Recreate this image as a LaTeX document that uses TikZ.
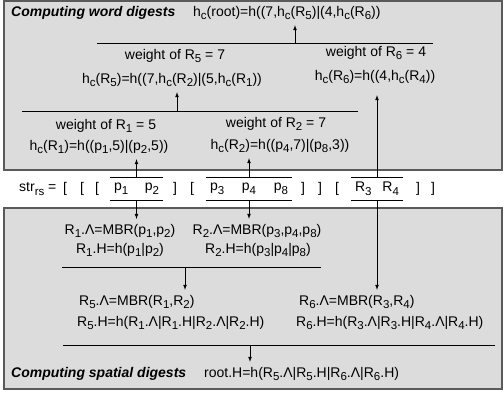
\documentclass[tikz,border=0pt]{standalone}
\usepackage{fontspec}
\setmainfont{Liberation Sans}
\newcommand\lo[1]{\raisebox{-0.5ex}{\fontsize{11.5}{11.5}\selectfont #1}}
\definecolor{panel}{HTML}{DCDCDC}
\definecolor{frame}{HTML}{5A5A5A}

\begin{document}
\begin{tikzpicture}[x=1pt, y=-1pt, >=latex,
  txt/.style={inner sep=1pt, font=\fontsize{14}{16}\selectfont},
  head/.style={inner sep=1pt, font=\fontsize{14}{16}\selectfont\bfseries\itshape},
  grp/.style={txt, minimum height=22pt, inner xsep=4pt},
  sep/.style={line width=0.8pt},
  arr/.style={->, line width=0.7pt, shorten >=4pt},
  box/.style={fill=panel, draw=frame, line width=1.6pt}]
  \useasboundingbox (0,0) rectangle (504,395);

  % the two panels
  \draw[box] (4,1) rectangle (502,170);
  \draw[box] (4,208) rectangle (502,389);

  % computing word digests
  \node[head, anchor=west] (wtitle) at (10,13) {Computing word digests};
  \node[txt, anchor=west] (hroot) at (192,13) {h\lo{c}(root)=h((7,h\lo{c}(R\lo{5})|(4,h\lo{c}(R\lo{6}))};
  \node[txt] (wR5) at (175,56) {weight of R\lo{5} = 7};
  \node[txt] (hR5) at (172,80) {h\lo{c}(R\lo{5})=h((7,h\lo{c}(R\lo{2})|(5,h\lo{c}(R\lo{1}))};
  \node[txt] (wR6) at (376,53) {weight of R\lo{6} = 4};
  \node[txt] (hR6) at (375,77) {h\lo{c}(R\lo{6})=h((4,h\lo{c}(R\lo{4}))};
  \node[txt] (wR1) at (106,126) {weight of R\lo{1} = 5};
  \node[txt] (hR1) at (99,147) {h\lo{c}(R\lo{1})=h((p\lo{1},5)|(p\lo{2},5))};
  \node[txt] (wR2) at (276,124) {weight of R\lo{2} = 7};
  \node[txt] (hR2) at (280,146) {h\lo{c}(R\lo{2})=h((p\lo{4},7)|(p\lo{8},3))};

  \draw[sep] (97,43) -- (433,43);
  \draw[sep] (22,111) -- (358,111);
  \coordinate (j1) at (295,43);
  \coordinate (j2) at (177,111);

  % the string
  \node[txt, anchor=west] (str) at (18,189) {str\lo{rs} =};
  \foreach \x/\b [count=\i] in {65/{[},82/{[},97/{[},175/{]},192/{[},303/{]},320/{]},337/{[},418/{]},433/{]}}
    \node[txt] (br\i) at (\x,189) {\b};
  \node[grp] (g12) at (136.5,189) {\makebox[45pt][s]{p\lo{1}\hfill p\lo{2}}};
  \node[grp] (g348) at (249,189) {\makebox[78pt][s]{p\lo{3}\hfill p\lo{4}\hfill p\lo{8}}};
  \node[grp] (gR34) at (377,189) {\makebox[44pt][s]{R\lo{3}\hfill R\lo{4}}};
  \foreach \g in {g12,g348,gR34}
    \draw[sep] (\g.north west) -- (\g.north east) (\g.south west) -- (\g.south east);

  % computing spatial digests
  \node[txt] (lR1) at (120,231) {R\lo{1}.Λ=MBR(p\lo{1},p\lo{2})};
  \node[txt] (lR2) at (257,231) {R\lo{2}.Λ=MBR(p\lo{3},p\lo{4},p\lo{8})};
  \node[txt] (HR1) at (120,250) {R\lo{1}.H=h(p\lo{1}|p\lo{2})};
  \node[txt] (HR2) at (258,250) {R\lo{2}.H=h(p\lo{3}|p\lo{4}|p\lo{8})};
  \node[txt, anchor=west] (lR5) at (78,302) {R\lo{5}.Λ=MBR(R\lo{1},R\lo{2})};
  \node[txt, anchor=west] (HR5) at (76,323) {R\lo{5}.H=h(R\lo{1}.Λ|R\lo{1}.H|R\lo{2}.Λ|R\lo{2}.H)};
  \node[txt, anchor=west] (lR6) at (298,302) {R\lo{6}.Λ=MBR(R\lo{3},R\lo{4})};
  \node[txt, anchor=west] (HR6) at (295,323) {R\lo{6}.H=h(R\lo{3}.Λ|R\lo{3}.H|R\lo{4}.Λ|R\lo{4}.H)};
  \node[head, anchor=west] (stitle) at (10,374) {Computing spatial digests};
  \node[txt, anchor=west] (rootH) at (203,374) {root.H=h(R\lo{5}.Λ|R\lo{5}.H|R\lo{6}.Λ|R\lo{6}.H)};

  \draw[sep] (62,267) -- (321,267);
  \draw[sep] (63,345) -- (495,345);
  \coordinate (j3) at (185,267);
  \coordinate (j4) at (250,345);

  % upward: word digests
  \draw[arr] (j1) -- (j1 |- hroot.south);
  \draw[arr] (j2) -- (j2 |- hR5.south);
  \draw[arr] (g12.north) -- (g12.north |- hR1.south);
  \draw[arr] (g348.north) -- (g348.north |- hR2.south);
  \draw[arr, shorten >=10pt] (gR34.north) -- (gR34.north |- hR6.south);
  % downward: spatial digests
  \draw[arr] (g12.south) -- (g12.south |- lR1.north);
  \draw[arr] (g348.south) -- (g348.south |- lR2.north);
  \draw[arr] (gR34.south) -- (gR34.south |- lR6.north);
  \draw[arr] (j3) -- (j3 |- lR5.north);
  \draw[arr] (j4) -- (j4 |- rootH.north);
\end{tikzpicture}
\end{document}
